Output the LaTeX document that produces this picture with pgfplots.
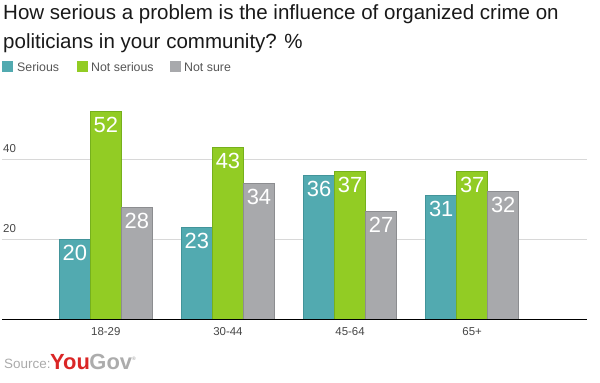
\documentclass[border=0pt]{standalone}
\usepackage{pgfplots}
\pgfplotsset{compat=1.18}
\usepackage{fontspec}
\setmainfont{Liberation Sans}
\definecolor{cSer}{RGB}{82,170,176}
\definecolor{cSerB}{RGB}{66,148,154}
\definecolor{cNot}{RGB}{146,204,36}
\definecolor{cNotB}{RGB}{118,176,28}
\definecolor{cSure}{RGB}{168,169,172}
\definecolor{cSureB}{RGB}{140,141,144}
\definecolor{titlec}{RGB}{25,25,25}
\definecolor{legc}{RGB}{85,85,85}
\definecolor{ticc}{RGB}{70,70,70}
\definecolor{gridc}{RGB}{216,216,216}
\definecolor{ygred}{RGB}{218,38,38}
\definecolor{yggray}{RGB}{172,172,172}
\definecolor{srcc}{RGB}{170,170,170}
\begin{document}
\begin{tikzpicture}[x=1bp,y=1bp]
\path[use as bounding box] (0,0) rectangle (600,382);
\node[anchor=base west, inner sep=0pt, font=\fontsize{20.6}{24}\selectfont, text=titlec] at (3,362.5) {How serious a problem is the influence of organized crime on};
\node[anchor=base west, inner sep=0pt, font=\fontsize{20.6}{24}\selectfont, text=titlec] at (3,333.5) {politicians in your community? \%};
% legend
\fill[cSer] (2,310) rectangle (13,321);
\node[anchor=west, inner sep=0pt, font=\fontsize{12.4}{14}\selectfont, text=legc] at (17,315) {Serious};
\fill[cNot] (77,310) rectangle (88,321);
\node[anchor=west, inner sep=0pt, font=\fontsize{12.4}{14}\selectfont, text=legc] at (91,315) {Not serious};
\fill[cSure] (170,310) rectangle (181,321);
\node[anchor=west, inner sep=0pt, font=\fontsize{12.4}{14}\selectfont, text=legc] at (184,315) {Not sure};
% source
\node[anchor=base west, inner sep=0pt, font=\fontsize{13.5}{14}\selectfont, text=srcc] at (4,14) {Source:};
\node[anchor=base west, inner sep=0pt, font=\bfseries\fontsize{22}{24}\selectfont] at (50,13) {\textcolor{ygred}{You}\kern-0.5bp\textcolor{yggray}{Gov}\raisebox{9bp}{\textcolor{yggray}{\fontsize{5}{5}\selectfont\textregistered}}};
\begin{axis}[
  at={(2bp,63bp)}, anchor=south west,
  scale only axis, width=585bp, height=228bp,
  xmin=-0.85, xmax=3.94, ymin=0, ymax=57,
  ybar=0pt, bar width=0.254,
  axis line style={draw=none},
  major tick length=0pt,
  xtick={0,1,2,3},
  xticklabels={18-29,30-44,45-64,65+},
  ytick={20,40},
  ymajorgrids, grid style={color=gridc, line width=1bp},
  /pgf/number format/assume math mode=true,
  xticklabel style={font=\fontsize{11.5}{12}\selectfont, text=ticc, inner sep=0pt, anchor=north, yshift=-8.5bp},
  yticklabel style={font=\fontsize{11.5}{12}\selectfont, text=ticc, inner sep=0pt, anchor=south west, xshift=1bp, yshift=6bp},
  nodes near coords,
  every node near coord/.append style={anchor=north, inner sep=0pt, yshift=-6bp, text=white, font=\fontsize{22}{22}\selectfont},
  clip=false,
]
\addplot[fill=cSer, draw=cSerB, line width=0.6bp, bar shift=-0.254] coordinates {(0,20) (1,23) (2,36) (3,31)};
\addplot[fill=cNot, draw=cNotB, line width=0.6bp, bar shift=0] coordinates {(0,52) (1,43) (2,37) (3,37)};
\addplot[fill=cSure, draw=cSureB, line width=0.6bp, bar shift=0.254] coordinates {(0,28) (1,34) (2,27) (3,32)};
\draw[black, line width=1bp] (rel axis cs:0,0) -- (rel axis cs:1,0);
\end{axis}
\end{tikzpicture}
\end{document}
